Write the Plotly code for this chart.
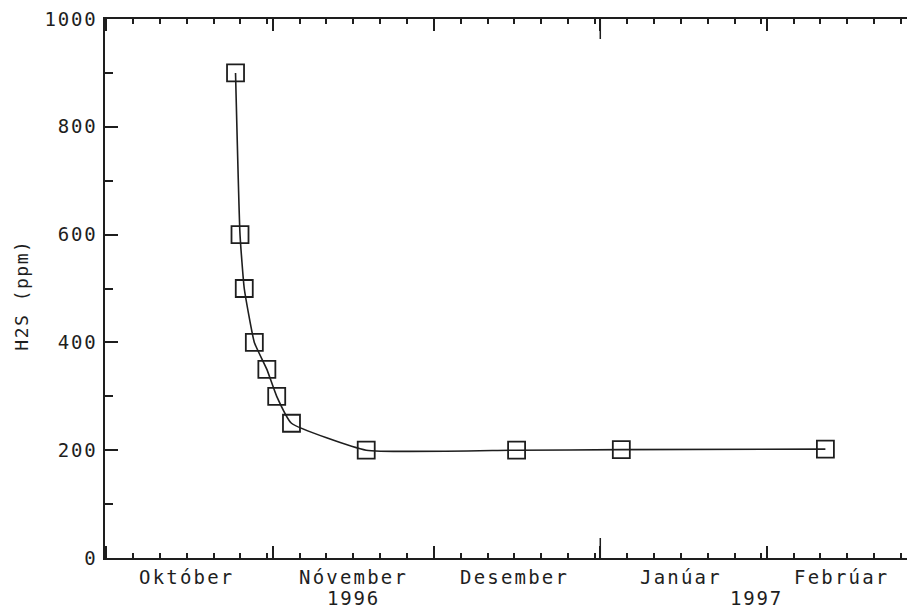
import plotly.graph_objects as go

# ---- data ----
dates = ["1996-10-25 02:00", "1996-10-25 22:00", "1996-10-26 17:00", "1996-10-28 14:00",
         "1996-10-30 22:00", "1996-11-01 18:00", "1996-11-04 12:00", "1996-11-18 10:00",
         "1996-12-16 10:00", "1997-01-04 22:00", "1997-02-11 22:00"]
h2s_ppm = [900, 600, 500, 400, 350, 300, 250, 200, 200, 201, 202]

month_starts = ["1996-10-01", "1996-11-01", "1996-12-01", "1997-01-01", "1997-02-01", "1997-03-01"]
month_labels = ["Október", "Nóvember", "Desember", "Janúar", "Febrúar"]
month_label_pos = ["1996-10-16", "1996-11-16", "1996-12-16", "1997-01-16", "1997-02-15"]
year_labels = ["1996", "1997"]
year_label_pos = ["1996-11-16", "1997-01-30"]
y_ticks = [0, 200, 400, 600, 800, 1000]

# minor ticks: every 5 days within each month (6, 11, 16, 21, 26, 31)
days_in_month = {"1996-10": 31, "1996-11": 30, "1996-12": 31, "1997-01": 31, "1997-02": 28}
minor_vals = []
for ym, nd in days_in_month.items():
    for d in (6, 11, 16, 21, 26, 31):
        if d <= nd:
            minor_vals.append(f"{ym}-{d:02d}")

INK = "#1e1e1e"
FONT = "DejaVu Sans Mono"
PLOT_H = 539  # plot area height in px

def spaced(t, sp=2.2):
    return f'<span style="letter-spacing:{sp}px">{t}</span>'

fig = go.Figure()
fig.add_trace(go.Scatter(
    x=dates, y=h2s_ppm, mode="lines+markers",
    line=dict(color=INK, width=1.6, shape="spline", smoothing=0.4),
    marker=dict(symbol="square-open", size=17, color=INK, line=dict(width=1.8, color=INK)),
    showlegend=False, hoverinfo="x+y"))
# invisible trace to activate the right-hand tick axis
fig.add_trace(go.Scatter(x=dates[:1], y=h2s_ppm[:1], yaxis="y2", mode="markers",
                         marker=dict(opacity=0), showlegend=False, hoverinfo="skip"))

# page body has an 8px margin, so the figure is placed at (8, 8)
fig.update_layout(
    width=907, height=604,
    margin=dict(l=97, r=0, t=11, b=54),
    paper_bgcolor="white", plot_bgcolor="white",
    font=dict(family=FONT, size=19, color=INK),
    xaxis=dict(
        type="date", range=["1996-09-30 18:40", "1997-02-28 14:24"],
        tickmode="array", tickvals=month_starts, showticklabels=False,
        ticks="inside", ticklen=12, tickwidth=1.5, tickcolor=INK,
        minor=dict(tickmode="array", tickvals=minor_vals, ticks="inside",
                   ticklen=5, tickwidth=1.5, tickcolor=INK, showgrid=False),
        showline=True, linecolor=INK, linewidth=1.6, mirror="ticks",
        showgrid=False, zeroline=False),
    yaxis=dict(
        range=[0, 1000], tickmode="array", tickvals=y_ticks,
        ticktext=[spaced(str(v), 1.8) for v in y_ticks],
        ticks="inside", ticklen=13, tickwidth=1.5, tickcolor=INK,
        minor=dict(dtick=100, ticks="inside", ticklen=8, tickwidth=1.5,
                   tickcolor=INK, showgrid=False),
        showline=True, linecolor=INK, linewidth=1.6, mirror=False,
        showgrid=False, zeroline=False, ticklabelstandoff=2,
        ticklabeloverflow="allow"),
    yaxis2=dict(
        range=[0, 1000], overlaying="y", side="right", tickmode="array", tickvals=y_ticks,
        showticklabels=False, ticks="inside", ticklen=8, tickwidth=1.5, tickcolor=INK,
        minor=dict(dtick=100, ticks="inside", ticklen=3, tickwidth=1.5,
                   tickcolor=INK, showgrid=False),
        showline=False, showgrid=False, zeroline=False),
)

# longer year-boundary ticks (Jan 1) top and bottom
for y0, y1 in ((0, 20 / PLOT_H), (1 - 20 / PLOT_H, 1)):
    fig.add_shape(type="line", xref="x", yref="paper", x0=month_starts[3], x1=month_starts[3],
                  y0=y0, y1=y1, line=dict(color=INK, width=1.5))

for lab, pos in zip(month_labels, month_label_pos):
    fig.add_annotation(x=pos, y=-18.7 / PLOT_H, xref="x", yref="paper", text=spaced(lab),
                       showarrow=False, xanchor="center", yanchor="middle",
                       font=dict(family=FONT, size=19, color=INK))
for lab, pos in zip(year_labels, year_label_pos):
    fig.add_annotation(x=pos, y=-40 / PLOT_H, xref="x", yref="paper", text=spaced(lab, 1.8),
                       showarrow=False, xanchor="center", yanchor="middle",
                       font=dict(family=FONT, size=19, color=INK))

fig.add_annotation(x=-83.3 / 810, y=0.488, xref="paper", yref="paper", text=spaced("H2S (ppm)", 1.5),
                   textangle=-90, showarrow=False, xanchor="center", yanchor="middle",
                   font=dict(family=FONT, size=18, color=INK))

fig.write_html("out.html")
